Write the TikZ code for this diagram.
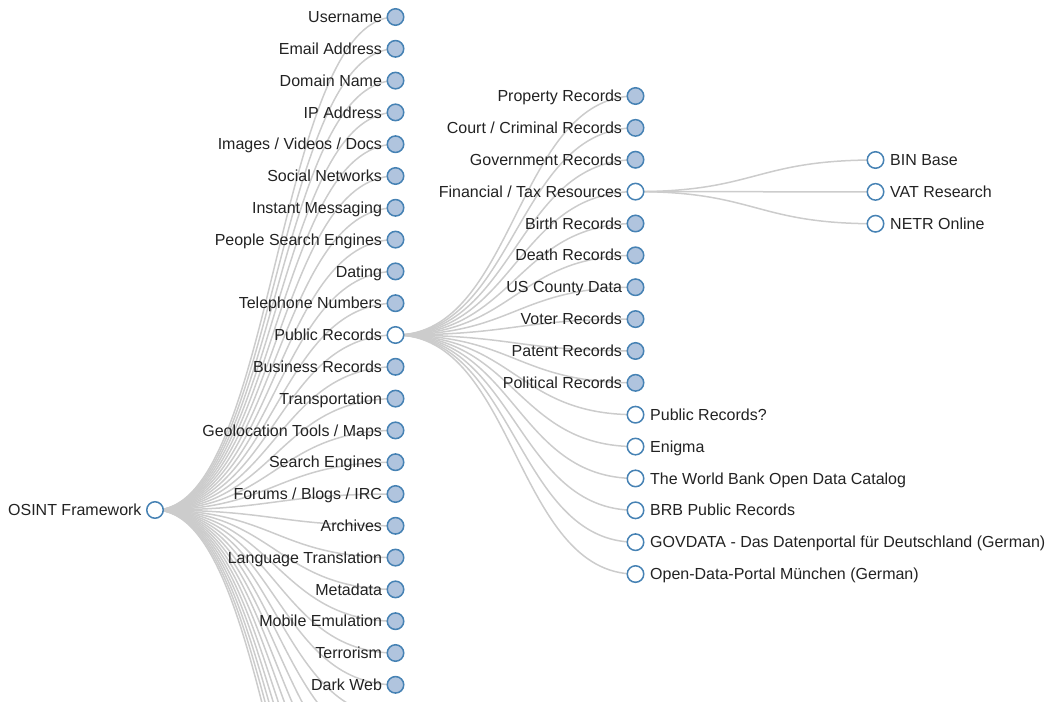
\documentclass[tikz,border=0pt]{standalone}
\usepackage{fontspec}
\setmainfont{Liberation Sans}
\usetikzlibrary{calc,backgrounds}
\definecolor{nodeedge}{HTML}{4682B4}
\definecolor{nodefill}{HTML}{B0C4DE}
\definecolor{linkcol}{HTML}{CCCCCC}
\definecolor{txtcol}{HTML}{222222}
\tikzset{
  tnode/.style={circle,draw=nodeedge,line width=1.5pt,inner sep=0pt,minimum size=16.5pt},
  filled/.style={tnode,fill=nodefill},
  hollow/.style={tnode,fill=white},
  ltxt/.style={anchor=base east,inner sep=0pt,text=txtcol,font=\fontsize{16}{19}\selectfont},
  rtxt/.style={anchor=base west,inner sep=0pt,text=txtcol,font=\fontsize{16}{19}\selectfont},
  link/.style={draw=linkcol,line width=1.5pt}
}
\begin{document}
\begin{tikzpicture}[x=1pt,y=-1pt]
\useasboundingbox (0,0) rectangle (1054,701);
\clip (0,0) rectangle (1054,701);
% root
\node[hollow] (root) at (155,510) {};
\node[ltxt] (troot) at ($(root)+(-13.3,5.6)$) {OSINT Framework};
% first level
\foreach \t [count=\i] in {Username,Email Address,Domain Name,IP Address,Images / Videos / Docs,Social Networks,Instant Messaging,People Search Engines,Dating,Telephone Numbers,Public Records,Business Records,Transportation,Geolocation Tools / Maps,Search Engines,Forums / Blogs / IRC,Archives,Language Translation,Metadata,Mobile Emulation,Terrorism,Dark Web}{
  \pgfmathsetmacro\yy{17+31.8*(\i-1)}
  \ifnum\i=11
    \node[hollow] (a\i) at (395.5,\yy) {};
  \else
    \node[filled] (a\i) at (395.5,\yy) {};
  \fi
  \node[ltxt] (ta\i) at ($(a\i)+(-13.3,5.6)$) {\t};
}
% first-level children below the frame
\foreach \k in {1,...,10}{
  \pgfmathsetmacro\yy{684.8+31.8*\k}
  \coordinate (b\k) at (395.5,\yy);
}
% second level: children of Public Records
\foreach \t [count=\i] in {Property Records,Court / Criminal Records,Government Records,Financial / Tax Resources,Birth Records,Death Records,US County Data,Voter Records,Patent Records,Political Records}{
  \pgfmathsetmacro\yy{96+31.87*(\i-1)}
  \ifnum\i=4
    \node[hollow] (p\i) at (635.5,\yy) {};
  \else
    \node[filled] (p\i) at (635.5,\yy) {};
  \fi
  \node[ltxt] (tp\i) at ($(p\i)+(-13.3,5.6)$) {\t};
}
\foreach \t [count=\j] in {Public Records?,Enigma,The World Bank Open Data Catalog,BRB Public Records,GOVDATA - Das Datenportal für Deutschland (German),Open-Data-Portal München (German)}{
  \pgfmathtruncatemacro\i{\j+10}
  \pgfmathsetmacro\yy{96+31.87*(\i-1)}
  \node[hollow] (p\i) at (635.5,\yy) {};
  \node[rtxt] (tp\i) at ($(p\i)+(14.5,5.6)$) {\t};
}
% third level
\foreach \t [count=\i] in {BIN Base,VAT Research,NETR Online}{
  \pgfmathsetmacro\yy{160+31.87*(\i-1)}
  \node[hollow] (f\i) at (875.5,\yy) {};
  \node[rtxt] (tf\i) at ($(f\i)+(14.5,5.6)$) {\t};
}
% links
\begin{pgfonlayer}{background}
  \foreach \i in {1,...,22}
    \draw[link] (root.center) .. controls +(120,0) and +(-120,0) .. (a\i.center);
  \foreach \k in {1,...,10}
    \draw[link] (root.center) .. controls +(120,0) and +(-120,0) .. (b\k);
  \foreach \i in {1,...,16}
    \draw[link] (a11.center) .. controls +(120,0) and +(-120,0) .. (p\i.center);
  \foreach \i in {1,...,3}
    \draw[link] (p4.center) .. controls +(120,0) and +(-120,0) .. (f\i.center);
\end{pgfonlayer}
\end{tikzpicture}
\end{document}
